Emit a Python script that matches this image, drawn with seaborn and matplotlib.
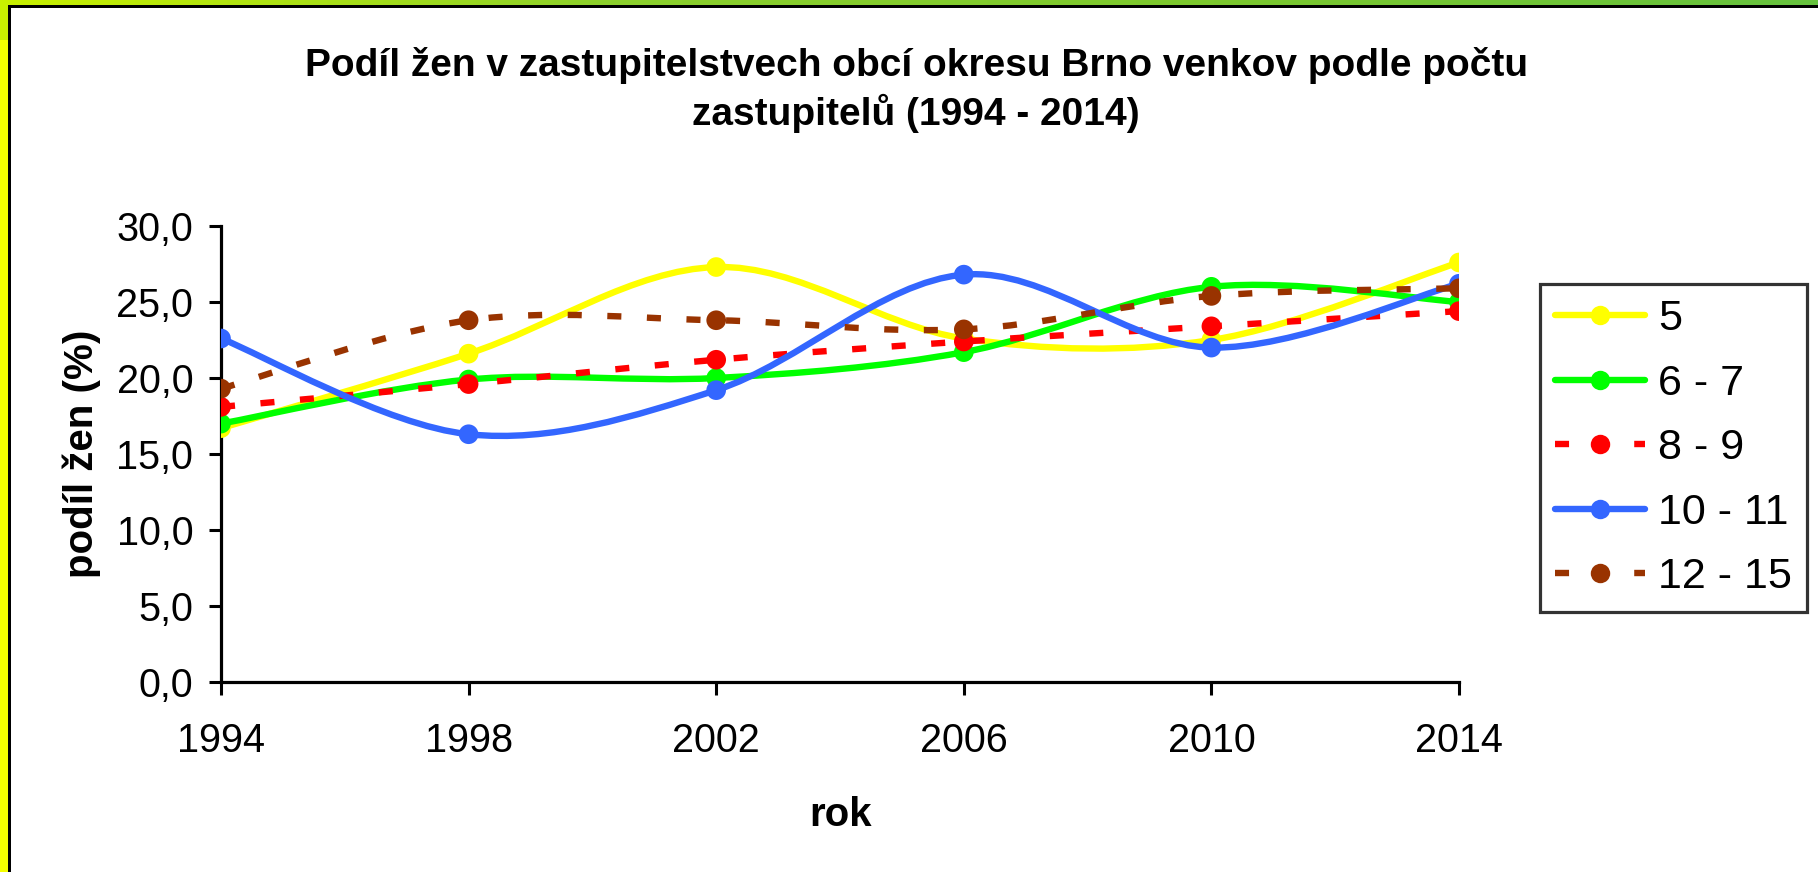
import numpy as np
import pandas as pd
import matplotlib
matplotlib.use("Agg")
import matplotlib.pyplot as plt
import seaborn as sns
from matplotlib.path import Path
from matplotlib.patches import PathPatch, Rectangle
from matplotlib.lines import Line2D

# data
years = [1994, 1998, 2002, 2006, 2010, 2014]
groups = ["5", "6 - 7", "8 - 9", "10 - 11", "12 - 15"]
share_5 = [16.7, 21.6, 27.3, 22.6, 22.5, 27.6]
share_6_7 = [17.0, 19.9, 20.0, 21.7, 26.0, 25.0]
share_8_9 = [18.1, 19.6, 21.2, 22.4, 23.4, 24.4]
share_10_11 = [22.6, 16.3, 19.2, 26.8, 22.0, 26.2]
share_12_15 = [19.3, 23.8, 23.8, 23.2, 25.4, 25.9]
y_ticks = [0, 5, 10, 15, 20, 25, 30]

series = [share_5, share_6_7, share_8_9, share_10_11, share_12_15]
colors = ["#FFFF00", "#00FF00", "#FF0000", "#3366FF", "#993300"]
dashed = [False, False, True, False, True]

df = pd.DataFrame({
    "rok": years * len(groups),
    "podil": sum(series, []),
    "skupina": np.repeat(groups, len(years)),
})

sns.set_style("white")
plt.rcParams["font.family"] = ["Liberation Sans", "DejaVu Sans"]
plt.rcParams["text.color"] = "black"
plt.rcParams["axes.labelcolor"] = "black"

fig = plt.figure(figsize=(18.18, 8.72), dpi=100)
fig.patch.set_facecolor("white")
ax = fig.add_axes([221 / 1818, 1 - 682 / 872, (1459 - 221) / 1818, (682 - 226) / 872])

LW = 4.6
DASH = (0, (2.2, 4.0))


def smooth_path(xs, ys):
    # Excel-style smoothed line as cubic bezier segments
    pts = list(zip(xs, ys))
    n = len(pts)
    verts = [pts[0]]
    codes = [Path.MOVETO]
    for i in range(n - 1):
        p0 = pts[i - 1] if i > 0 else pts[i]
        p1, p2 = pts[i], pts[i + 1]
        p3 = pts[i + 2] if i + 2 < n else pts[i + 1]
        c1 = (p1[0] + (p2[0] - p0[0]) / 6, p1[1] + (p2[1] - p0[1]) / 6)
        c2 = (p2[0] - (p3[0] - p1[0]) / 6, p2[1] - (p3[1] - p1[1]) / 6)
        verts += [c1, c2, p2]
        codes += [Path.CURVE4] * 3
    return Path(verts, codes)


for i, (g, col, dash) in enumerate(zip(groups, colors, dashed)):
    sub = df[df["skupina"] == g]
    patch = PathPatch(smooth_path(sub["rok"].tolist(), sub["podil"].tolist()),
                      facecolor="none", edgecolor=col, lw=LW,
                      linestyle=DASH if dash else "-",
                      capstyle="butt", zorder=2 + 2 * i)
    ax.add_patch(patch)
    sns.scatterplot(data=sub, x="rok", y="podil", color=col, s=200,
                    edgecolor="none", ax=ax, zorder=3 + 2 * i, legend=False)

ax.set_xlim(1994, 2014)
ax.set_ylim(0, 30)
ax.set_xticks(years)
ax.set_xticklabels([str(y) for y in years])
ax.set_yticks(y_ticks)
ax.set_yticklabels([f"{v:.1f}".replace(".", ",") for v in y_ticks])
ax.tick_params(axis="both", direction="out", length=9, width=2.2,
               labelsize=28.5, colors="black", left=True, bottom=True)
ax.tick_params(axis="y", pad=11)
ax.tick_params(axis="x", pad=20)
for s in ["top", "right"]:
    ax.spines[s].set_visible(False)
for s in ["left", "bottom"]:
    ax.spines[s].set_color("black")
    ax.spines[s].set_linewidth(2.3)
ax.set_facecolor("white")

ax.set_xlabel("rok", fontsize=29, fontweight="bold")
ax.set_ylabel("podíl žen (%)", fontsize=29, fontweight="bold")
ax.xaxis.set_label_coords(0.5, -0.25)
ax.yaxis.set_label_coords(-0.097, 0.5)

fig.text(0.504, 1 - 66 / 872, "Podíl žen v zastupitelstvech obcí okresu Brno venkov podle počtu",
         ha="center", va="center", fontsize=28, fontweight="bold")
fig.text(0.504, 1 - 113 / 872, "zastupitelů (1994 - 2014)",
         ha="center", va="center", fontsize=28, fontweight="bold")

# legend with line + marker handles
handles = [Line2D([0], [0], color=c, lw=LW, linestyle=DASH if d else "-",
                  marker="o", markersize=14, markeredgewidth=0, dash_capstyle="butt")
           for c, d in zip(colors, dashed)]
leg = ax.legend(handles, groups, loc="upper left",
                bbox_to_anchor=(1540 / 1818, 1 - 284 / 872),
                bbox_transform=fig.transFigure, borderaxespad=0,
                fontsize=31, handlelength=2.1, handletextpad=0.3,
                labelspacing=0.57, borderpad=0.35, frameon=True, fancybox=False)
leg.get_frame().set_edgecolor("black")
leg.get_frame().set_linewidth(2.3)
leg.get_frame().set_facecolor("white")

# decorative border: green strip on top, yellow on the left, black frame line
grad = fig.add_axes([0, 1 - 5 / 872, 1, 5 / 872])
grad.imshow(np.linspace(0, 1, 256)[None, :], aspect="auto",
            cmap=matplotlib.colors.LinearSegmentedColormap.from_list(
                "g", ["#C8F000", "#8CD02C", "#7CC82E", "#66C23E"]))
grad.set_axis_off()
fig.add_artist(Rectangle((0, 0), 8 / 1818, 1 - 5 / 872, transform=fig.transFigure,
                         facecolor="#F5FF00", edgecolor="none"))
fig.add_artist(Rectangle((0, 1 - 40 / 872), 8 / 1818, 35 / 872, transform=fig.transFigure,
                         facecolor="#C8F000", edgecolor="none"))
fig.add_artist(Rectangle((8 / 1818, 0), 3.3 / 1818, 1 - 5 / 872, transform=fig.transFigure,
                         facecolor="black", edgecolor="none"))
fig.add_artist(Rectangle((8 / 1818, 1 - 8 / 872), 1, 3.3 / 872, transform=fig.transFigure,
                         facecolor="black", edgecolor="none"))

fig.savefig("out.png", dpi=100, facecolor=fig.get_facecolor())
